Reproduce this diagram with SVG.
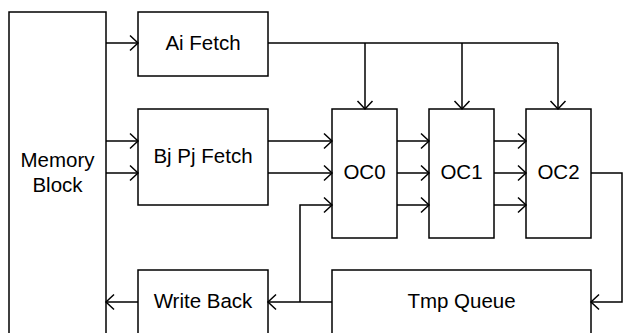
<svg xmlns="http://www.w3.org/2000/svg" width="623" height="333" viewBox="0 0 623 333">
<defs>
<marker id="arr" viewBox="-10 -9 12 18" markerWidth="12" markerHeight="18" refX="0" refY="0" orient="auto" markerUnits="userSpaceOnUse">
<path d="M-8,-7.5 L0,0 L-8,7.5" fill="none" stroke="#000" stroke-width="1.5"/>
</marker>
<style>
.box{fill:#fff;stroke:#000;stroke-width:1.5}
.lbl{font-family:"Liberation Sans",Arial,sans-serif;font-size:20.5px;fill:#000;text-anchor:middle}
.c{fill:none;stroke:#000;stroke-width:1.5}
.a{marker-end:url(#arr)}
</style>
</defs>
<rect width="623" height="333" fill="#fff"/>
<g id="memory"><rect class="box" x="9" y="12" width="97" height="330"/><text class="lbl" x="57.5" y="167">Memory</text><text class="lbl" x="57.5" y="192">Block</text></g>
<g id="aifetch"><rect class="box" x="138" y="12" width="130" height="64"/><text class="lbl" x="203" y="50">Ai Fetch</text></g>
<g id="bjpjfetch"><rect class="box" x="138" y="109" width="130" height="96"/><text class="lbl" x="203" y="163">Bj Pj Fetch</text></g>
<g id="oc0"><rect class="box" x="332" y="109" width="65" height="129"/><text class="lbl" x="364.5" y="179">OC0</text></g>
<g id="oc1"><rect class="box" x="429" y="109" width="65" height="129"/><text class="lbl" x="461.5" y="179">OC1</text></g>
<g id="oc2"><rect class="box" x="526" y="109" width="65" height="129"/><text class="lbl" x="558.5" y="179">OC2</text></g>
<g id="writeback"><rect class="box" x="138" y="270" width="130" height="72"/><text class="lbl" x="203" y="308">Write Back</text></g>
<g id="tmpqueue"><rect class="box" x="332" y="270" width="259" height="72"/><text class="lbl" x="461.5" y="308">Tmp Queue</text></g>
<g id="connectors">
<path class="c a" d="M106,43 H138"/>
<path class="c a" d="M106,141 H138"/>
<path class="c a" d="M106,173 H138"/>
<path class="c" d="M268,43 H558"/>
<path class="c a" d="M365,43 V109"/>
<path class="c a" d="M462,43 V109"/>
<path class="c a" d="M558,43 V109"/>
<path class="c a" d="M268,141 H332"/>
<path class="c a" d="M268,173 H332"/>
<path class="c a" d="M397,141 H429"/>
<path class="c a" d="M397,173 H429"/>
<path class="c a" d="M397,205 H429"/>
<path class="c a" d="M494,141 H526"/>
<path class="c a" d="M494,173 H526"/>
<path class="c a" d="M494,205 H526"/>
<path class="c a" d="M591,173 H622 V302 H591"/>
<path class="c a" d="M332,302 H268"/>
<path class="c a" d="M300,302 V205 H332"/>
<path class="c a" d="M138,302 H106"/>
</g>
</svg>
